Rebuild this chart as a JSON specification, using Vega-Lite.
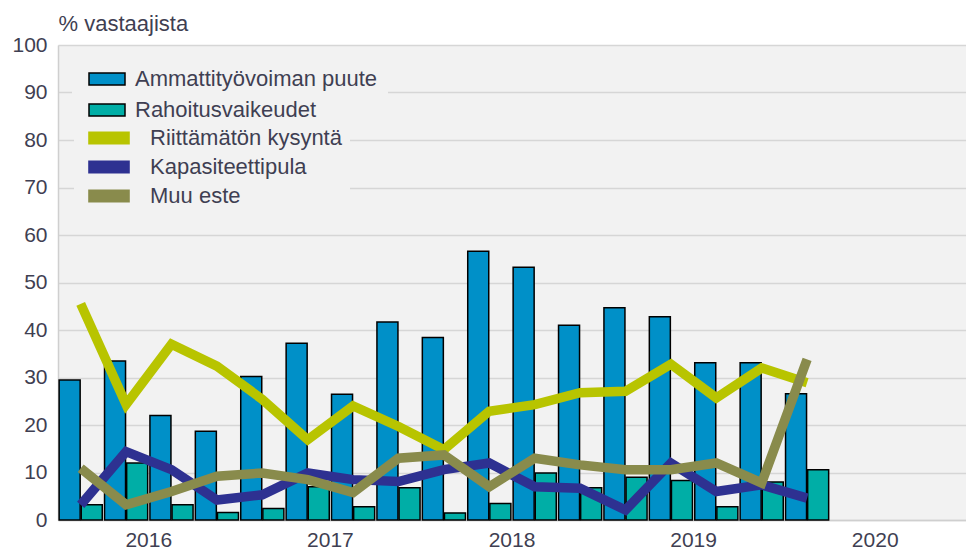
{
  "$schema": "https://vega.github.io/schema/vega-lite/v6.json",
  "width": 908,
  "height": 475,
  "autosize": {"type": "none"},
  "padding": {"left": 58, "top": 45, "right": 0, "bottom": 33},
  "background": "white",
  "config": {
    "view": {"fill": "#f2f2f2", "stroke": null},
    "font": "Liberation Sans"
  },
  "datasets": {
    "bars": [
      {"q": "2016Q1", "series": "Ammattityövoiman puute", "value": 29.5},
      {"q": "2016Q2", "series": "Ammattityövoiman puute", "value": 33.5},
      {"q": "2016Q3", "series": "Ammattityövoiman puute", "value": 22},
      {"q": "2016Q4", "series": "Ammattityövoiman puute", "value": 18.7},
      {"q": "2017Q1", "series": "Ammattityövoiman puute", "value": 30.2},
      {"q": "2017Q2", "series": "Ammattityövoiman puute", "value": 37.2},
      {"q": "2017Q3", "series": "Ammattityövoiman puute", "value": 26.5},
      {"q": "2017Q4", "series": "Ammattityövoiman puute", "value": 41.7},
      {"q": "2018Q1", "series": "Ammattityövoiman puute", "value": 38.4},
      {"q": "2018Q2", "series": "Ammattityövoiman puute", "value": 56.6},
      {"q": "2018Q3", "series": "Ammattityövoiman puute", "value": 53.2},
      {"q": "2018Q4", "series": "Ammattityövoiman puute", "value": 41},
      {"q": "2019Q1", "series": "Ammattityövoiman puute", "value": 44.7},
      {"q": "2019Q2", "series": "Ammattityövoiman puute", "value": 42.8},
      {"q": "2019Q3", "series": "Ammattityövoiman puute", "value": 33.1},
      {"q": "2019Q4", "series": "Ammattityövoiman puute", "value": 33.1},
      {"q": "2020Q1", "series": "Ammattityövoiman puute", "value": 26.6},
      {"q": "2016Q1", "series": "Rahoitusvaikeudet", "value": 3.2},
      {"q": "2016Q2", "series": "Rahoitusvaikeudet", "value": 12},
      {"q": "2016Q3", "series": "Rahoitusvaikeudet", "value": 3.2},
      {"q": "2016Q4", "series": "Rahoitusvaikeudet", "value": 1.6},
      {"q": "2017Q1", "series": "Rahoitusvaikeudet", "value": 2.4},
      {"q": "2017Q2", "series": "Rahoitusvaikeudet", "value": 7},
      {"q": "2017Q3", "series": "Rahoitusvaikeudet", "value": 2.8},
      {"q": "2017Q4", "series": "Rahoitusvaikeudet", "value": 6.8},
      {"q": "2018Q1", "series": "Rahoitusvaikeudet", "value": 1.5},
      {"q": "2018Q2", "series": "Rahoitusvaikeudet", "value": 3.5},
      {"q": "2018Q3", "series": "Rahoitusvaikeudet", "value": 9.9},
      {"q": "2018Q4", "series": "Rahoitusvaikeudet", "value": 6.8},
      {"q": "2019Q1", "series": "Rahoitusvaikeudet", "value": 9},
      {"q": "2019Q2", "series": "Rahoitusvaikeudet", "value": 8.3},
      {"q": "2019Q3", "series": "Rahoitusvaikeudet", "value": 2.8},
      {"q": "2019Q4", "series": "Rahoitusvaikeudet", "value": 8},
      {"q": "2020Q1", "series": "Rahoitusvaikeudet", "value": 10.6}
    ],
    "lines": [
      {"q": "2016Q1", "series": "Riittämätön kysyntä", "value": 45.5},
      {"q": "2016Q2", "series": "Riittämätön kysyntä", "value": 24.3},
      {"q": "2016Q3", "series": "Riittämätön kysyntä", "value": 37},
      {"q": "2016Q4", "series": "Riittämätön kysyntä", "value": 32.4},
      {"q": "2017Q1", "series": "Riittämätön kysyntä", "value": 25.4},
      {"q": "2017Q2", "series": "Riittämätön kysyntä", "value": 16.9},
      {"q": "2017Q3", "series": "Riittämätön kysyntä", "value": 24},
      {"q": "2017Q4", "series": "Riittämätön kysyntä", "value": 19.7},
      {"q": "2018Q1", "series": "Riittämätön kysyntä", "value": 14.8},
      {"q": "2018Q2", "series": "Riittämätön kysyntä", "value": 22.9},
      {"q": "2018Q3", "series": "Riittämätön kysyntä", "value": 24.3},
      {"q": "2018Q4", "series": "Riittämätön kysyntä", "value": 26.8},
      {"q": "2019Q1", "series": "Riittämätön kysyntä", "value": 27.1},
      {"q": "2019Q2", "series": "Riittämätön kysyntä", "value": 32.8},
      {"q": "2019Q3", "series": "Riittämätön kysyntä", "value": 25.7},
      {"q": "2019Q4", "series": "Riittämätön kysyntä", "value": 32},
      {"q": "2020Q1", "series": "Riittämätön kysyntä", "value": 28.9},
      {"q": "2016Q1", "series": "Kapasiteettipula", "value": 3.2},
      {"q": "2016Q2", "series": "Kapasiteettipula", "value": 14.4},
      {"q": "2016Q3", "series": "Kapasiteettipula", "value": 10.6},
      {"q": "2016Q4", "series": "Kapasiteettipula", "value": 4.2},
      {"q": "2017Q1", "series": "Kapasiteettipula", "value": 5.3},
      {"q": "2017Q2", "series": "Kapasiteettipula", "value": 9.9},
      {"q": "2017Q3", "series": "Kapasiteettipula", "value": 8.5},
      {"q": "2017Q4", "series": "Kapasiteettipula", "value": 8.1},
      {"q": "2018Q1", "series": "Kapasiteettipula", "value": 10.6},
      {"q": "2018Q2", "series": "Kapasiteettipula", "value": 12},
      {"q": "2018Q3", "series": "Kapasiteettipula", "value": 7},
      {"q": "2018Q4", "series": "Kapasiteettipula", "value": 6.7},
      {"q": "2019Q1", "series": "Kapasiteettipula", "value": 2.1},
      {"q": "2019Q2", "series": "Kapasiteettipula", "value": 12},
      {"q": "2019Q3", "series": "Kapasiteettipula", "value": 6},
      {"q": "2019Q4", "series": "Kapasiteettipula", "value": 7.4},
      {"q": "2020Q1", "series": "Kapasiteettipula", "value": 4.6},
      {"q": "2016Q1", "series": "Muu este", "value": 10.9},
      {"q": "2016Q2", "series": "Muu este", "value": 3.2},
      {"q": "2016Q3", "series": "Muu este", "value": 6},
      {"q": "2016Q4", "series": "Muu este", "value": 9.2},
      {"q": "2017Q1", "series": "Muu este", "value": 9.9},
      {"q": "2017Q2", "series": "Muu este", "value": 8.5},
      {"q": "2017Q3", "series": "Muu este", "value": 5.8},
      {"q": "2017Q4", "series": "Muu este", "value": 13},
      {"q": "2018Q1", "series": "Muu este", "value": 13.7},
      {"q": "2018Q2", "series": "Muu este", "value": 7},
      {"q": "2018Q3", "series": "Muu este", "value": 13},
      {"q": "2018Q4", "series": "Muu este", "value": 11.6},
      {"q": "2019Q1", "series": "Muu este", "value": 10.6},
      {"q": "2019Q2", "series": "Muu este", "value": 10.6},
      {"q": "2019Q3", "series": "Muu este", "value": 12},
      {"q": "2019Q4", "series": "Muu este", "value": 7.8},
      {"q": "2020Q1", "series": "Muu este", "value": 33.8}
    ]
  },
  "encoding": {
    "x": {
      "field": "q",
      "type": "nominal",
      "scale": {
        "domain": ["2016Q1","2016Q2","2016Q3","2016Q4","2017Q1","2017Q2","2017Q3","2017Q4","2018Q1","2018Q2","2018Q3","2018Q4","2019Q1","2019Q2","2019Q3","2019Q4","2020Q1","2020Q2","2020Q3","2020Q4"],
        "paddingInner": 0.05,
        "paddingOuter": 0.025
      },
      "axis": {
        "title": null,
        "ticks": false,
        "grid": false,
        "labelAngle": 0,
        "labelOverlap": false,
        "labelExpr": "substring(datum.value, 4) == 'Q3' ? substring(datum.value, 0, 4) : ''",
        "labelOffset": -22.7,
        "labelPadding": 9,
        "labelFontSize": 21,
        "labelColor": "#3f3f52",
        "domainColor": "#cfcfcf",
        "domainWidth": 1.5
      }
    },
    "y": {
      "field": "value",
      "type": "quantitative",
      "scale": {"domain": [0, 100], "nice": false},
      "axis": {
        "title": "% vastaajista",
        "titleAngle": 0,
        "titleAlign": "left",
        "titleBaseline": "alphabetic",
        "titleX": 0,
        "titleY": -15,
        "titleFontSize": 22,
        "titleFontWeight": "normal",
        "titleColor": "#3f3f52",
        "values": [0, 10, 20, 30, 40, 50, 60, 70, 80, 90, 100],
        "labelFontSize": 21,
        "labelColor": "#3f3f52",
        "labelPadding": 11,
        "ticks": false,
        "grid": true,
        "gridColor": "#d6d6d6",
        "gridWidth": 1.5,
        "domainColor": "#cfcfcf",
        "domainWidth": 1.5
      }
    }
  },
  "layer": [
    {
      "data": {"name": "bars"},
      "mark": {"type": "bar", "stroke": "black", "strokeWidth": 1.5, "opacity": 1},
      "encoding": {
        "xOffset": {
          "field": "series",
          "type": "nominal",
          "scale": {"domain": ["Ammattityövoiman puute", "Rahoitusvaikeudet"], "paddingInner": 0.05}
        },
        "fill": {
          "field": "series",
          "type": "nominal",
          "scale": {
            "domain": ["Ammattityövoiman puute", "Rahoitusvaikeudet"],
            "range": ["#0090c8", "#00aea6"]
          },
          "legend": {
            "title": null,
            "orient": "none",
            "legendX": 14,
            "legendY": 13,
            "padding": 10,
            "fillColor": "#f2f2f2",
            "strokeColor": null,
            "symbolType": "M-2.25,-0.75H2.25V0.75H-2.25Z",
            "symbolSize": 256,
            "symbolStrokeColor": "black",
            "symbolStrokeWidth": 1.5,
            "symbolOpacity": 1,
            "symbolOffset": 14,
            "labelOffset": 17,
            "labelFontSize": 22,
            "labelColor": "#3f3f52",
            "labelLimit": 400,
            "rowPadding": 9
          }
        }
      }
    },
    {
      "data": {"name": "lines"},
      "mark": {"type": "line", "strokeWidth": 9.5, "opacity": 1},
      "encoding": {
        "stroke": {
          "field": "series",
          "type": "nominal",
          "scale": {
            "domain": ["Riittämätön kysyntä", "Kapasiteettipula", "Muu este"],
            "range": ["#b8c400", "#2e3191", "#898b4c"]
          },
          "legend": null
        }
      }
    },
    {
      "data": {"name": "lines"},
      "mark": {"type": "point", "filled": true, "opacity": 0, "size": 1},
      "encoding": {
        "fill": {
          "field": "series",
          "type": "nominal",
          "scale": {
            "domain": ["Riittämätön kysyntä", "Kapasiteettipula", "Muu este"],
            "range": ["#b8c400", "#2e3191", "#898b4c"]
          },
          "legend": {
            "title": null,
            "orient": "none",
            "legendX": 16,
            "legendY": 74,
            "padding": 8,
            "fillColor": "#f2f2f2",
            "strokeColor": null,
            "symbolType": "M-2.6,-0.8H2.6V0.8H-2.6Z",
            "symbolSize": 256,
            "symbolStrokeWidth": 0,
            "symbolOpacity": 1,
            "symbolOffset": 16,
            "labelOffset": 30,
            "labelFontSize": 22,
            "labelColor": "#3f3f52",
            "labelLimit": 400,
            "rowPadding": 7
          }
        }
      }
    }
  ],
  "resolve": {
    "scale": {"fill": "independent"},
    "legend": {"fill": "independent"}
  }
}
